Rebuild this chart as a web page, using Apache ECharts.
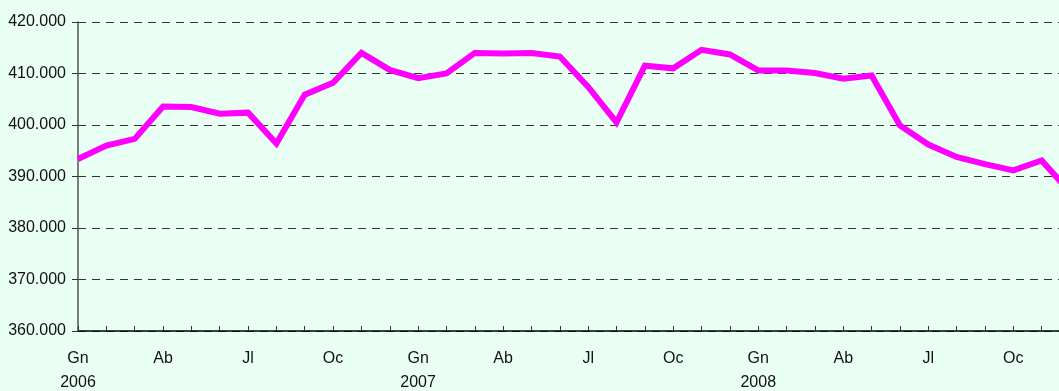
<!DOCTYPE html>
<html>
<head>
<meta charset="utf-8">
<script src="https://cdn.jsdelivr.net/npm/echarts@6/dist/echarts.min.js"></script>
<style>
  html, body { margin: 0; padding: 0; background: #E9FFF3; overflow: hidden; }
  #chart { width: 1059px; height: 391px; }
</style>
</head>
<body>
<div id="chart"></div>
<script>
// Monthly series, January 2006 – December 2008
const monthNames = ['Gn', 'Fb', 'Mz', 'Ab', 'Mg', 'Gg', 'Jl', 'Ag', 'St', 'Oc', 'Nv', 'Dc'];
const years = ['2006', '2007', '2008'];
const labeledMonths = ['Gn', 'Ab', 'Jl', 'Oc'];
const values = [
  393.4, 396.0, 397.3, 403.6, 403.5, 402.2, 402.4, 396.4, 405.9, 408.2, 414.0, 410.7,
  409.1, 410.0, 414.0, 413.9, 414.0, 413.3, 407.4, 400.5, 411.5, 411.0, 414.6, 413.7,
  410.6, 410.6, 410.1, 409.0, 409.6, 399.9, 396.2, 393.8, 392.4, 391.2, 393.1, 387.0
];
const yMin = 360, yMax = 420, yStep = 10;

const categories = [];
years.forEach(y => monthNames.forEach(m => categories.push(m + '|' + y)));

const font = '"Liberation Sans", Arial, sans-serif';

const chart = echarts.init(document.getElementById('chart'));
chart.setOption({
  backgroundColor: '#E9FFF3',
  animation: false,
  // the December 2008 point sits just past the right edge of the canvas
  grid: { left: 78, width: 992, top: 22, height: 309, containLabel: false, outerBoundsMode: 'none' },
  xAxis: {
    type: 'category',
    data: categories,
    boundaryGap: false,
    axisLine: { lineStyle: { color: '#000', width: 1.5 } },
    axisTick: { show: true, inside: true, length: 5, interval: 0, lineStyle: { color: '#333' } },
    axisLabel: {
      interval: 0,
      margin: 16,
      color: '#111',
      fontFamily: font,
      fontSize: 16,
      lineHeight: 24,
      hideOverlap: false,
      formatter: function (v) {
        const [m, y] = v.split('|');
        if (labeledMonths.indexOf(m) < 0) return '';
        return m === 'Gn' ? m + '\n' + y : m;
      }
    },
    splitLine: { show: false }
  },
  yAxis: {
    type: 'value',
    min: yMin,
    max: yMax,
    interval: yStep,
    axisLine: { show: true, lineStyle: { color: '#555', width: 1.5 } },
    axisTick: { show: true, length: 6, lineStyle: { color: '#333' } },
    axisLabel: {
      margin: 12,
      color: '#111',
      fontFamily: font,
      fontSize: 16,
      formatter: v => v.toFixed(3)
    },
    splitLine: { show: true, lineStyle: { color: '#333', type: [8, 6], width: 1.2 } }
  },
  series: [{
    type: 'line',
    data: values,
    symbol: 'none',
    lineStyle: { color: '#FF00FF', width: 6, join: 'miter' },
    itemStyle: { color: '#FF00FF' }
  }]
});
</script>
</body>
</html>
